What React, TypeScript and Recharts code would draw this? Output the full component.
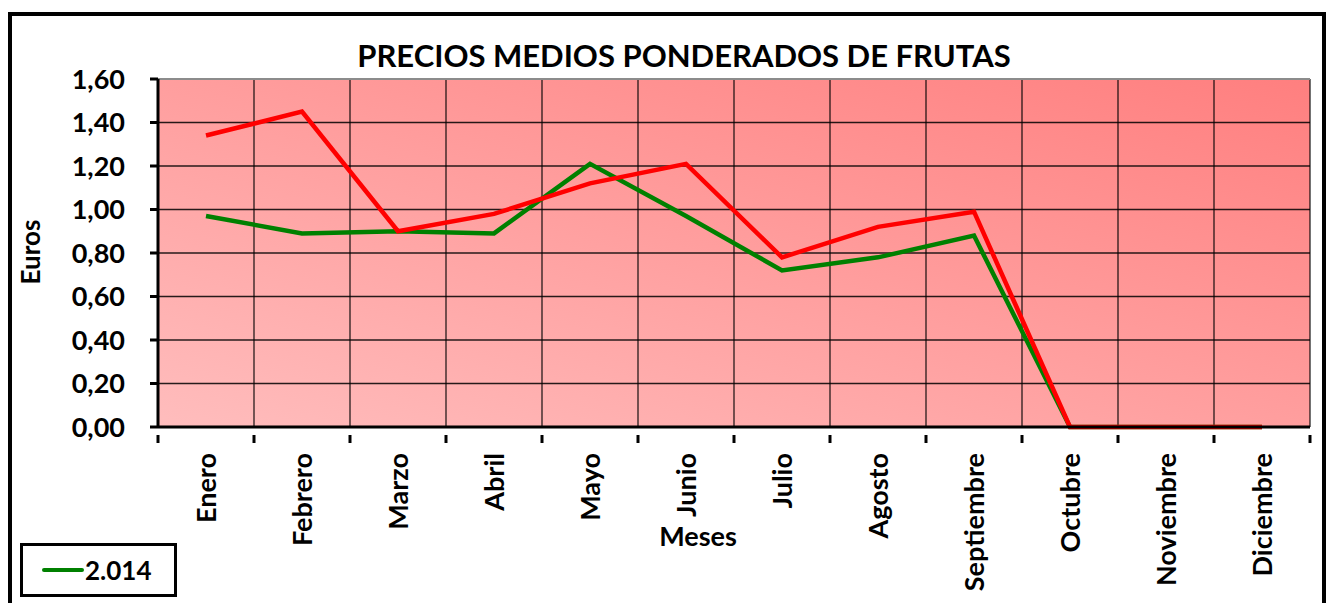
import React from "react"
import {
    LineChart,
    Line,
    XAxis,
    YAxis,
    CartesianGrid,
    ReferenceLine
} from "recharts"

const MESES = [
    "Enero", "Febrero", "Marzo", "Abril", "Mayo", "Junio",
    "Julio", "Agosto", "Septiembre", "Octubre", "Noviembre", "Diciembre"
]

// 2.014 (verde)
const SERIE_2014 = [0.97, 0.89, 0.90, 0.89, 1.21, 0.97, 0.72, 0.78, 0.88, 0, 0, 0]
// serie roja (sin leyenda visible)
const SERIE_2013 = [1.34, 1.45, 0.90, 0.98, 1.12, 1.21, 0.78, 0.92, 0.99, 0, 0, 0]

const Y_TICKS = [0, 0.2, 0.4, 0.6, 0.8, 1.0, 1.2, 1.4, 1.6]
const BORDES = [0, 1, 2, 3, 4, 5, 6, 7, 8, 9, 10, 11, 12]

const FONT = "Lato, 'DejaVu Sans', sans-serif"

const data = MESES.map((mes, i) => ({
    mes,
    a2014: SERIE_2014[i],
    a2013: SERIE_2013[i]
}))

// etiqueta girada + marca de división a la izquierda (y a la derecha en el último mes)
const MesTick = (props: any) => {
    const { x, y, payload, index } = props
    const half = payload && typeof payload.offset === "number" ? payload.offset : 0
    return (
        <g>
            {half > 0 && <line x1={x - half} x2={x - half} y1={y} y2={y + 8} stroke="#000" strokeWidth={3} />}
            {half > 0 && index === MESES.length - 1 &&
                <line x1={x + half} x2={x + half} y1={y} y2={y + 8} stroke="#000" strokeWidth={3} />}
            <g transform={`translate(${x},${y + 18}) rotate(-90)`}>
                <text textAnchor="end" dy="0.36em" fontFamily={FONT} fontWeight={700} fontSize={27} fill="#000">
                    {payload.value}
                </text>
            </g>
        </g>
    )
}

export default function App() {
    return (
        <div style={{ position: "absolute", left: 0, top: 0, width: 1328, height: 603, overflow: "hidden", background: "#fff" }}>
            <div style={{
                position: "absolute", left: 8, top: 12, width: 1318, height: 640,
                border: "4px solid #000", boxSizing: "border-box"
            }} />
            <div style={{
                position: "absolute", left: 158, width: 1052, top: 36, textAlign: "center",
                fontFamily: FONT, fontWeight: 700, fontSize: 31, color: "#000"
            }}>
                PRECIOS MEDIOS PONDERADOS DE FRUTAS
            </div>
            <div style={{
                position: "absolute", left: 30, top: 252, transform: "translate(-50%,-50%) rotate(-90deg)",
                fontFamily: FONT, fontWeight: 700, fontSize: 26, color: "#000"
            }}>
                Euros
            </div>
            <div style={{
                position: "absolute", left: 698, top: 535, transform: "translate(-50%,-50%)",
                fontFamily: FONT, fontWeight: 700, fontSize: 27, color: "#000"
            }}>
                Meses
            </div>
            <LineChart
                width={1328}
                height={603}
                data={data}
                margin={{ top: 79, right: 18, bottom: 0, left: 0 }}
                style={{ position: "absolute", left: 0, top: 0 }}
            >
                <defs>
                    <linearGradient id="fondo" x1="0" y1="1" x2="1" y2="0">
                        <stop offset="0%" stopColor="#ffbdbd" />
                        <stop offset="100%" stopColor="#ff7f7f" />
                    </linearGradient>
                </defs>
                <CartesianGrid
                    fill="url(#fondo)"
                    fillOpacity={1}
                    stroke="#000"
                    strokeOpacity={0.85}
                    strokeWidth={1.3}
                    verticalCoordinatesGenerator={({ offset }: any) =>
                        BORDES.map((b) => offset.left + (offset.width * b) / BORDES[BORDES.length - 1])
                    }
                />
                <XAxis
                    xAxisId="bordes"
                    type="number"
                    domain={[0, 12]}
                    ticks={BORDES}
                    hide
                    height={0}
                />
                <XAxis
                    dataKey="mes"
                    scale="band"
                    interval={0}
                    height={176}
                    axisLine={{ stroke: "#000", strokeWidth: 3 }}
                    tickLine={false}
                    tick={<MesTick />}
                />
                <YAxis
                    width={158}
                    domain={[0, 1.6]}
                    ticks={Y_TICKS}
                    interval={0}
                    tickFormatter={(v: number) => v.toFixed(2).replace(".", ",")}
                    axisLine={{ stroke: "#000", strokeWidth: 3 }}
                    tickLine={{ stroke: "#000", strokeWidth: 3 }}
                    tickSize={8}
                    tickMargin={25}
                    tick={{ fill: "#000", fontFamily: FONT, fontWeight: 700, fontSize: 27 }}
                />
                <ReferenceLine y={1.6} stroke="#8c8c8c" strokeWidth={2} />
                <ReferenceLine x={12} xAxisId="bordes" stroke="#8c8c8c" strokeWidth={2} />
                <Line
                    type="linear"
                    dataKey="a2014"
                    name="2.014"
                    stroke="#008000"
                    strokeWidth={4.5}
                    dot={false}
                    isAnimationActive={false}
                />
                <Line
                    type="linear"
                    dataKey="a2013"
                    stroke="#ff0000"
                    strokeWidth={4.5}
                    dot={false}
                    isAnimationActive={false}
                />
            </LineChart>
            <div style={{
                position: "absolute", left: 20, top: 543, width: 157, height: 54, boxSizing: "border-box",
                border: "3px solid #000", display: "flex", alignItems: "center", paddingLeft: 19, background: "#fff"
            }}>
                <div style={{ width: 42, height: 4, background: "#008000", borderRadius: 2 }} />
                <span style={{ fontFamily: FONT, fontWeight: 700, fontSize: 26, color: "#000", marginLeft: 1 }}>2.014</span>
            </div>
        </div>
    )
}
